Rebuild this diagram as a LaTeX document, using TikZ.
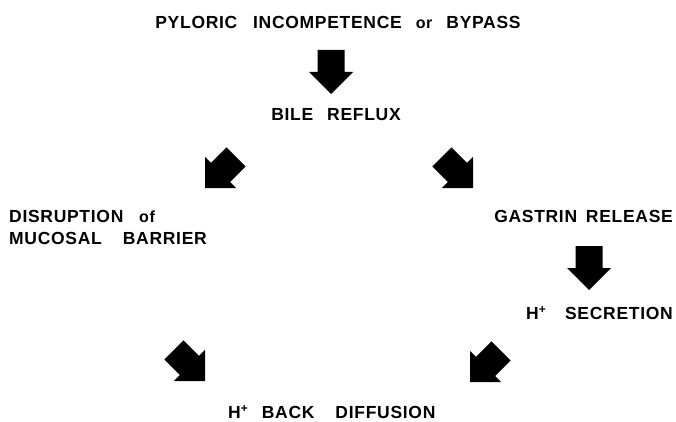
\documentclass[tikz,border=0pt]{standalone}
\usepackage{fontspec}
\setmainfont{Liberation Sans}[LetterSpace=4]
\newcommand{\hplus}{H\raisebox{0.55ex}{\fontsize{12}{12}\selectfont +}}
\begin{document}
\begin{tikzpicture}[x=1pt,y=-1pt,
  lbl/.style={font=\bfseries\fontsize{17.5}{22}\selectfont, inner sep=0pt, text=black},
  blockarrow/.pic={\fill[black] (0,0) -- (22,-22) -- (13.5,-22) -- (13.5,-44) -- (-13.5,-44) -- (-13.5,-22) -- (-22,-22) -- cycle;}]
\useasboundingbox[fill=white] (0,0) rectangle (676,422);
\node[lbl] (pyl) at (338,22) {PYLORIC\hspace{0.9em}INCOMPETENCE\hspace{0.8em}{\fontsize{16}{18}\selectfont or}\hspace{0.8em}BYPASS};
\node[lbl] (bile) at (336,115) {BILE\hspace{0.8em}REFLUX};
\node[lbl, anchor=west, align=left] (disr) at (9,227) {DISRUPTION\hspace{0.9em}{\fontsize{16}{18}\selectfont of}\\MUCOSAL\hspace{1.2em}BARRIER};
\node[lbl, anchor=east] (gas) at (673,216) {GASTRIN\hspace{0.5em}RELEASE};
\node[lbl, anchor=east] (sec) at (673,313) {\hplus\hspace{1.1em}SECRETION};
\node[lbl, anchor=west] (back) at (228,412) {\hplus\hspace{0.8em}BACK\hspace{1.2em}DIFFUSION};
\pic at (331,94) {blockarrow};
\pic[rotate=-45] at (205,188) {blockarrow};
\pic[rotate=45] at (473,188) {blockarrow};
\pic at (589,290) {blockarrow};
\pic[rotate=45] at (205,381) {blockarrow};
\pic[rotate=-45] at (470,382) {blockarrow};
\end{tikzpicture}
\end{document}
